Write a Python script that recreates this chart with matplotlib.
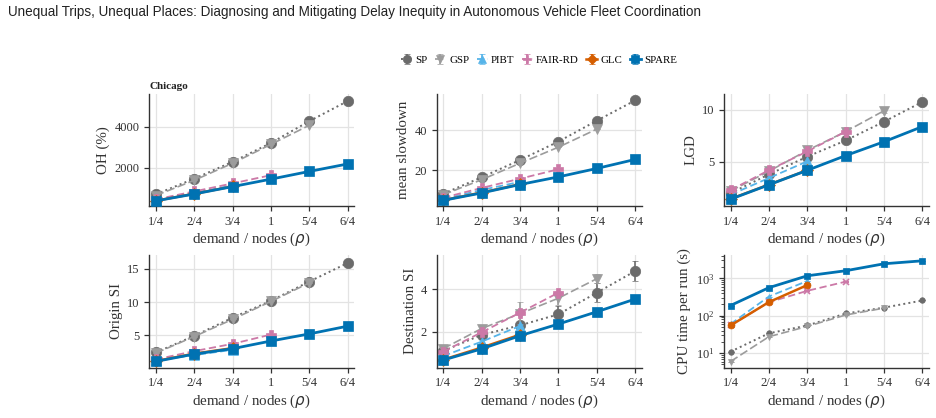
import numpy as np
import matplotlib
matplotlib.use("Agg")
import matplotlib.pyplot as plt
from matplotlib.ticker import LogLocator, NullFormatter

plt.rcParams['font.family'] = ['Liberation Serif', 'DejaVu Serif']
plt.rcParams['mathtext.fontset'] = 'dejavusans'

x_labels = ["1/4", "2/4", "3/4", "1", "5/4", "6/4"]
methods = ["SP", "GSP", "PIBT", "FAIR-RD", "GLC", "SPARE"]

# ---- data ----
oh_sp = [720, 1480, 2300, 3220, 4280, 5260]
oh_gsp = [660, 1400, 2230, 3150, 4080]
oh_pibt = [430, 790, 1160]
oh_fair = [470, 860, 1250, 1650]
oh_glc = [405, 745, 1100]
oh_spare = [400, 734, 1094, 1458, 1833, 2197]

sd_sp = [8.3, 16.5, 25.1, 34.3, 44.7, 54.8]
sd_gsp = [7.8, 15.3, 23.5, 31.5, 40.5]
sd_pibt = [5.6, 10.2, 14.2]
sd_fair = [6.3, 11.2, 15.8, 20.5]
sd_glc = [5.1, 8.9, 13.0]
sd_spare = [5.0, 8.7, 12.9, 16.7, 20.9, 25.4]

lgd_sp = [2.0, 3.8, 5.5, 7.05, 8.85, 10.75]
lgd_gsp = [2.2, 4.1, 6.1, 7.9, 9.9]
lgd_pibt = [1.85, 3.45, 5.05]
lgd_fair = [2.3, 4.2, 6.0, 7.9]
lgd_glc = [1.45, 2.82, 4.2]
lgd_spare = [1.42, 2.8, 4.19, 5.6, 6.93, 8.38]
lgd_sp_err = [0.1, 0.15, 0.2, 0.25, 0.3, 0.25]
lgd_gsp_err = [0.1, 0.1, 0.15, 0.2, 0.25]

osi_sp = [2.4, 4.9, 7.65, 10.2, 13.1, 15.9]
osi_gsp = [2.3, 4.8, 7.4, 10.1, 12.9]
osi_pibt = [1.2, 2.0, 2.8]
osi_fair = [1.35, 2.6, 3.7, 5.1]
osi_glc = [1.1, 2.22, 3.05]
osi_spare = [1.05, 2.15, 2.97, 4.13, 5.2, 6.37]

dsi_sp = [1.09, 1.85, 2.3, 2.82, 3.84, 4.86]
dsi_gsp = [1.2, 2.15, 2.85, 3.58, 4.5]
dsi_pibt = [0.85, 1.53, 2.27]
dsi_fair = [1.06, 1.97, 2.9, 3.84]
dsi_glc = [0.68, 1.25, 1.86]
dsi_spare = [0.66, 1.19, 1.81, 2.36, 2.94, 3.54]
dsi_sp_err = [0.1, 0.2, 0.2, 0.4, 0.45, 0.48]
dsi_gsp_err = [0.12, 0.12, 0.55, 0.3, 0.2]
dsi_pibt_err = [0.05, 0.08, 0.1]
dsi_fair_err = [0.06, 0.1, 0.12, 0.1]

cpu_sp = [11, 34, 55, 115, 165, 256]
cpu_gsp = [6, 27.6, 52, 105, 160]
cpu_pibt = [60, 327, 850]
cpu_fair = [55, 230, 464, 815]
cpu_glc = [55, 232, 660]
cpu_spare = [188, 563, 1170, 1595, 2450, 2940]

panels = [
    ("OH (%)", [oh_sp, oh_gsp, oh_pibt, oh_fair, oh_glc, oh_spare], {}, (150, 5600), [2000, 4000]),
    ("mean slowdown", [sd_sp, sd_gsp, sd_pibt, sd_fair, sd_glc, sd_spare], {}, (2.2, 58), [20, 40]),
    ("LGD", [lgd_sp, lgd_gsp, lgd_pibt, lgd_fair, lgd_glc, lgd_spare], {0: lgd_sp_err, 1: lgd_gsp_err}, (0.77, 11.5), [5, 10]),
    ("Origin SI", [osi_sp, osi_gsp, osi_pibt, osi_fair, osi_glc, osi_spare], {}, (0.1, 17.1), [5, 10, 15]),
    ("Destination SI", [dsi_sp, dsi_gsp, dsi_pibt, dsi_fair, dsi_glc, dsi_spare],
     {0: dsi_sp_err, 1: dsi_gsp_err, 2: dsi_pibt_err, 3: dsi_fair_err}, (0.3, 5.62), [2, 4]),
    ("CPU time per run (s)", [cpu_sp, cpu_gsp, cpu_pibt, cpu_fair, cpu_glc, cpu_spare], {}, (4.1, 4200), None),
]

colors = ['#6b6b6b', '#9c9c9c', '#56B4E9', '#CC79A7', '#D55E00', '#0072B2']
styles = [':', (0, (5, 2)), (0, (4, 2)), (0, (4, 2)), '-', '-']
lws = [1.4, 1.2, 1.3, 1.3, 1.8, 2.0]
markers = ['o', 'v', '^', 'P', 'D', 's']
markers_cpu = ['o', 'v', '^', 'x', 'o', 's']
zs = [2, 2.1, 2.2, 2.3, 2.4, 3]

fig = plt.figure(figsize=(9.37, 4.18), dpi=100)
W, H = 937, 418
lefts = [149.3, 436.7, 724]
rows = [(94, 206), (255, 367.7)]
aw = 205

fig.text(8 / W, 1 - 12 / H, "Unequal Trips, Unequal Places: Diagnosing and Mitigating Delay Inequity in Autonomous Vehicle Fleet Coordination",
         family=['Liberation Sans', 'DejaVu Sans'], fontsize=9.75, va='center', ha='left', color='#222222')

handles = []
for i, (ylabel, series, errs, ylim, yticks) in enumerate(panels):
    r, c = divmod(i, 3)
    top, bot = rows[r]
    ax = fig.add_axes([lefts[c] / W, 1 - bot / H, aw / W, (bot - top) / H])
    is_cpu = (i == 5)
    for k, y in enumerate(series):
        xs = np.arange(len(y))
        e = errs.get(k, [0.0] * len(y))
        mk = markers_cpu[k] if is_cpu else markers[k]
        if is_cpu:
            ms = 5 if k in (4, 5) else 4
        else:
            ms = 6 if k == 4 else 7.5
        h = ax.errorbar(xs, y, yerr=e, color=colors[k], ls=styles[k], lw=lws[k],
                        marker=mk, ms=ms, mew=1.2 if mk == 'x' else 0.5,
                        mec=colors[k], capsize=2.5, elinewidth=1.2, capthick=1.2,
                        zorder=zs[k], label=methods[k])
        if i == 0:
            handles.append(h)
    ax.set_xlim(-0.17, 5.17)
    ax.set_xticks(range(6))
    ax.set_xticklabels(x_labels)
    if is_cpu:
        ax.set_yscale('log')
        ax.set_ylim(*ylim)
        ax.yaxis.set_major_locator(LogLocator(base=10, numticks=10))
        ax.yaxis.set_minor_locator(LogLocator(base=10, subs=np.arange(2, 10), numticks=10))
        ax.yaxis.set_minor_formatter(NullFormatter())
    else:
        ax.set_ylim(*ylim)
        ax.set_yticks(yticks)
    ax.grid(True, which='major', color='#e3e3e3', lw=0.9, zorder=0)
    ax.set_axisbelow(True)
    for s in ('top', 'right'):
        ax.spines[s].set_visible(False)
    for s in ('left', 'bottom'):
        ax.spines[s].set_color('#333333')
        ax.spines[s].set_linewidth(1.0)
    ax.tick_params(axis='both', which='major', labelsize=9, length=3.5, width=0.9,
                   colors='#333333', labelcolor='#333333')
    ax.tick_params(axis='y', which='minor', length=2, width=0.6, colors='#333333')
    ax.set_xlabel(r"demand / nodes ($\rho$)", fontsize=10.8, color='#333333', labelpad=2)
    ax.set_ylabel(ylabel, fontsize=10.8, color='#333333', labelpad=3)
    if i == 0:
        ax.text(0.0, 1.03, "Chicago", transform=ax.transAxes, fontsize=8,
                fontweight='bold', ha='left', va='bottom', color='#222222')

fig.legend(handles=handles, labels=methods, loc='center', bbox_to_anchor=(539 / W, 1 - 60 / H),
           ncol=6, frameon=False, fontsize=7.8, handlelength=1.0, handletextpad=0.3,
           columnspacing=0.7, markerscale=0.8)

fig.savefig("out.png", dpi=100)
